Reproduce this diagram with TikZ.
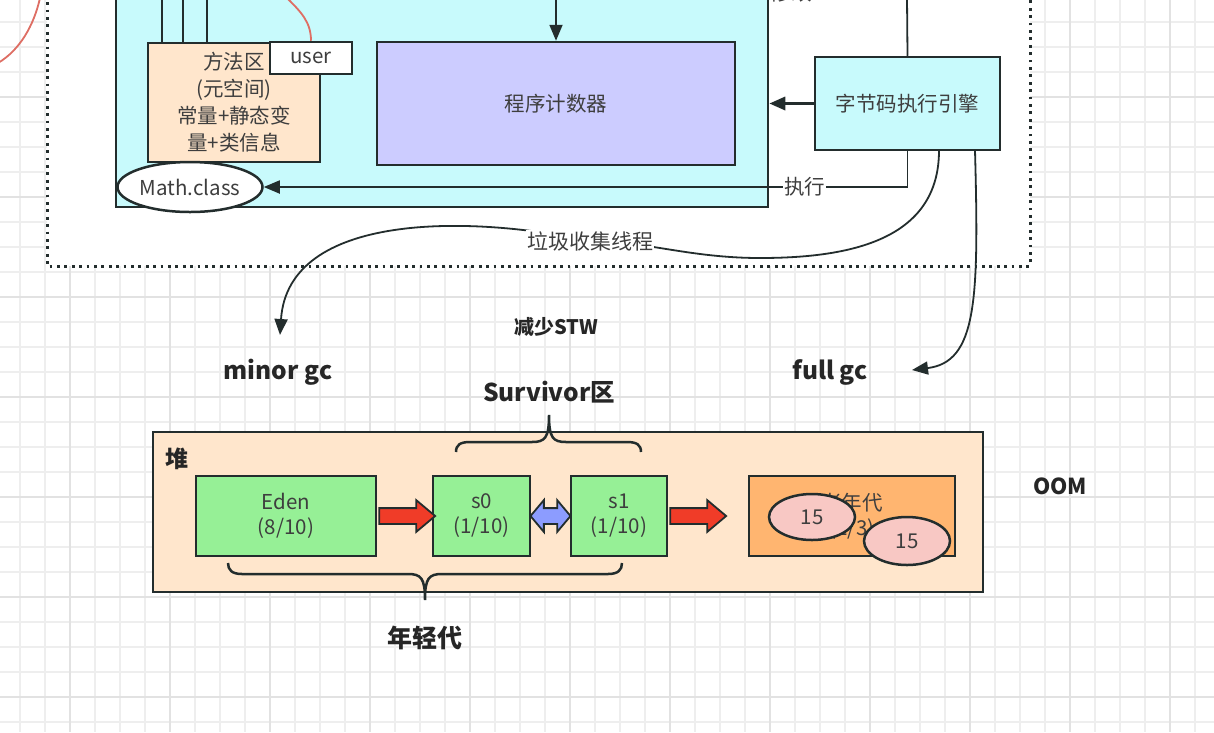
\documentclass[tikz,border=0pt]{standalone}
\usepackage{fontspec}
\setmainfont{Noto Sans CJK SC}
\usetikzlibrary{shapes.geometric,shapes.arrows,arrows.meta,calc}
\definecolor{cyanfill}{RGB}{200,250,252}
\definecolor{peach}{RGB}{255,230,204}
\definecolor{lav}{RGB}{204,204,255}
\definecolor{grn}{RGB}{150,240,150}
\definecolor{org}{RGB}{255,181,112}
\definecolor{pinkfill}{RGB}{248,200,196}
\definecolor{edge}{RGB}{35,45,45}
\definecolor{txt}{RGB}{62,62,62}
\definecolor{redc}{RGB}{222,110,100}
\definecolor{fatred}{RGB}{240,60,40}
\definecolor{fatblue}{RGB}{140,156,255}
\definecolor{gridminor}{RGB}{238,238,238}
\definecolor{gridmajor}{RGB}{226,226,226}
\tikzset{
  box/.style={draw=edge, line width=2.5pt, inner sep=0pt, align=center, text=txt,
    font=\fontsize{20.5}{27}\selectfont},
  oval/.style={ellipse, draw=edge, line width=2.5pt, inner sep=0pt, text=txt,
    font=\fontsize{20.5}{24}\selectfont},
  arr/.style={-{Triangle[length=16pt,width=13pt]}, draw=edge, line width=1.8pt},
  conn/.style={draw=edge, line width=1.8pt},
  lbl/.style={fill=white, inner sep=1pt, text=txt, font=\fontsize{20.5}{24}\selectfont},
  boldlbl/.style={text=black!85, font=\bfseries\fontsize{24.5}{28}\selectfont},
  fat/.style={single arrow, draw=edge, line width=1.8pt, fill=fatred, inner xsep=0pt,
    inner ysep=7pt, single arrow head extend=8pt, single arrow head indent=0pt,
    single arrow tip angle=80, minimum height=56pt},
  dbl/.style={double arrow, draw=edge, line width=1.8pt, fill=fatblue, inner xsep=0pt,
    inner ysep=7pt, double arrow head extend=8pt, double arrow head indent=0pt,
    double arrow tip angle=100, minimum height=40pt},
  brace/.style={draw=edge, line width=2.5pt},
}
\begin{document}
\begin{tikzpicture}[x=1pt,y=-1pt]
\useasboundingbox (0,0) rectangle (1214,732);
\clip (0,0) rectangle (1214,732);
% grid
\foreach \x in {20,45,...,1214} \draw[gridminor, line width=1.2pt] (\x,0) -- (\x,732);
\foreach \y in {22,47,...,732} \draw[gridminor, line width=1.2pt] (0,\y) -- (1214,\y);
\foreach \x in {70,170,...,1214} \draw[gridmajor, line width=1.8pt] (\x,0) -- (\x,732);
\foreach \y in {97,197,...,732} \draw[gridmajor, line width=1.8pt] (0,\y) -- (1214,\y);
% container
\fill[white] (47,-20) rectangle (1030,266);
\draw[edge, line width=3pt, dash pattern=on 2.8pt off 4.6pt] (47,-20) rectangle (1030,266);
% red curves from outside
\coordinate (redA) at (40,-2);
\coordinate (redB) at (-2,63);
\draw[redc, line width=1.8pt] (redA) .. controls (34,25) and (20,50) .. (redB);
% jvm box
\node[box, fill=cyanfill, minimum width=652pt, minimum height=227pt] (jvm) at (442,93.5) {};
\node[box, fill=peach, minimum width=172pt, minimum height=119pt] (meth) at (234,102.5)
  {方法区\\(元空间)\\常量+静态变\\量+类信息};
\node[box, fill=white, minimum width=82pt, minimum height=32pt] (user) at (311,58) {user};
\node[oval, fill=white, minimum width=145pt, minimum height=50pt] (math) at (190,187) {Math.class};
\node[box, fill=lav, minimum width=358pt, minimum height=123pt] (pc) at (556,103.5) {程序计数器};
\node[box, fill=cyanfill, minimum width=185pt, minimum height=93pt] (eng) at (907.5,103.5) {字节码执行引擎};
% lines into method area
\coordinate (l1) at (162,-2);
\coordinate (l2) at (183,-2);
\coordinate (l3) at (207,-2);
\draw[conn] (l1) -- (l1 |- meth.north);
\draw[conn] (l2) -- (l2 |- meth.north);
\draw[conn] (l3) -- (l3 |- meth.north);
\coordinate (redC) at (287,-2);
\draw[redc, line width=1.8pt] (redC) .. controls (301,12) and (311,22) .. (user.north);
% into pc
\coordinate (pcin) at (556,-2);
\draw[arr] (pcin) -- (pc.north);
% engine to jvm
\draw[arr, line width=3.2pt] (eng.west) -- (eng.west -| jvm.east);
% modify (partially visible)
\coordinate (engtop) at (907,-2);
\draw[conn] (eng.north) -- (engtop);
\node[text=txt, font=\fontsize{20.5}{24}\selectfont] (modlbl) at (791,-7) {修改};
% execute
\draw[arr] (eng.south) |- node[lbl, pos=0.58] (exec) {执行} (math.east);
% gc thread curve
\coordinate (gcs) at (939,150.5);
\coordinate (minorin) at (280,335);
\draw[arr] (gcs) .. controls (939,240) and (850,258) .. (760,258)
  .. controls (690,258) and (645,241) .. (590,241) node[lbl, font=\fontsize{21}{24}\selectfont] (gclbl) {垃圾收集线程}
  .. controls (470,215) and (288,212) .. (minorin);
% full gc curve
\coordinate (fgs) at (975,150.5);
\coordinate (fullin) at (912,370);
\draw[arr] (fgs) .. controls (979,300) and (977,362) .. (fullin);
% labels
\node[boldlbl, font=\bfseries\fontsize{20}{24}\selectfont] (stw) at (556,327) {减少STW};
\node[boldlbl] (minor) at (278,372) {minor gc};
\node[boldlbl] (full) at (830,372) {full gc};
\node[boldlbl] (surv) at (549,392) {Survivor区};
\node[boldlbl, font=\bfseries\fontsize{22}{24}\selectfont] (oom) at (1060,486) {OOM};
% heap
\node[box, fill=peach, minimum width=830pt, minimum height=160pt] (heap) at (568,512) {};
\node[boldlbl, font=\bfseries\fontsize{23}{26}\selectfont] (heaplbl) at (177,459) {堆};
\node[box, fill=grn, minimum width=180pt, minimum height=80pt, font=\fontsize{20.5}{25}\selectfont] (eden) at (286,516) {Eden\\(8/10)};
\node[box, fill=grn, minimum width=97pt, minimum height=80pt, font=\fontsize{20.5}{25}\selectfont] (s0) at (481.5,516) {s0\\(1/10)};
\node[box, fill=grn, minimum width=96pt, minimum height=80pt, font=\fontsize{20.5}{25}\selectfont] (s1) at (619,516) {s1\\(1/10)};
\node[box, fill=org, minimum width=206pt, minimum height=80pt, font=\fontsize{20.5}{25}\selectfont] (old) at (852,516) {老年代\\(2/3)};
\node[oval, fill=pinkfill, minimum width=86pt, minimum height=46pt] (o1) at (812,517) {15};
\node[oval, fill=pinkfill, minimum width=86pt, minimum height=48pt] (o2) at (907,541) {15};
% fat arrows
\node[fat, anchor=tail] (a1) at ([xshift=1pt]eden.east) {};
\node[fat, anchor=tail] (a2) at ([xshift=1pt]s1.east) {};
\node[dbl] (a3) at ($(s0.east)!0.5!(s1.west)$) {};
% braces
\draw[brace] (456,452) .. controls (456,445) and (460,442) .. (470,442) -- (532,442)
  .. controls (545,442) and (549,438) .. (549,415)
  .. controls (549,438) and (553,442) .. (566,442) -- (627,442)
  .. controls (637,442) and (641,445) .. (641,452);
\draw[brace] (228,563) .. controls (228,570) and (232,574) .. (242,574) -- (408,574)
  .. controls (421,574) and (425,578) .. (425,600)
  .. controls (425,578) and (429,574) .. (442,574) -- (608,574)
  .. controls (618,574) and (622,570) .. (622,563);
\node[boldlbl, font=\bfseries\fontsize{25}{28}\selectfont] (young) at (425,638) {年轻代};
\end{tikzpicture}
\end{document}
